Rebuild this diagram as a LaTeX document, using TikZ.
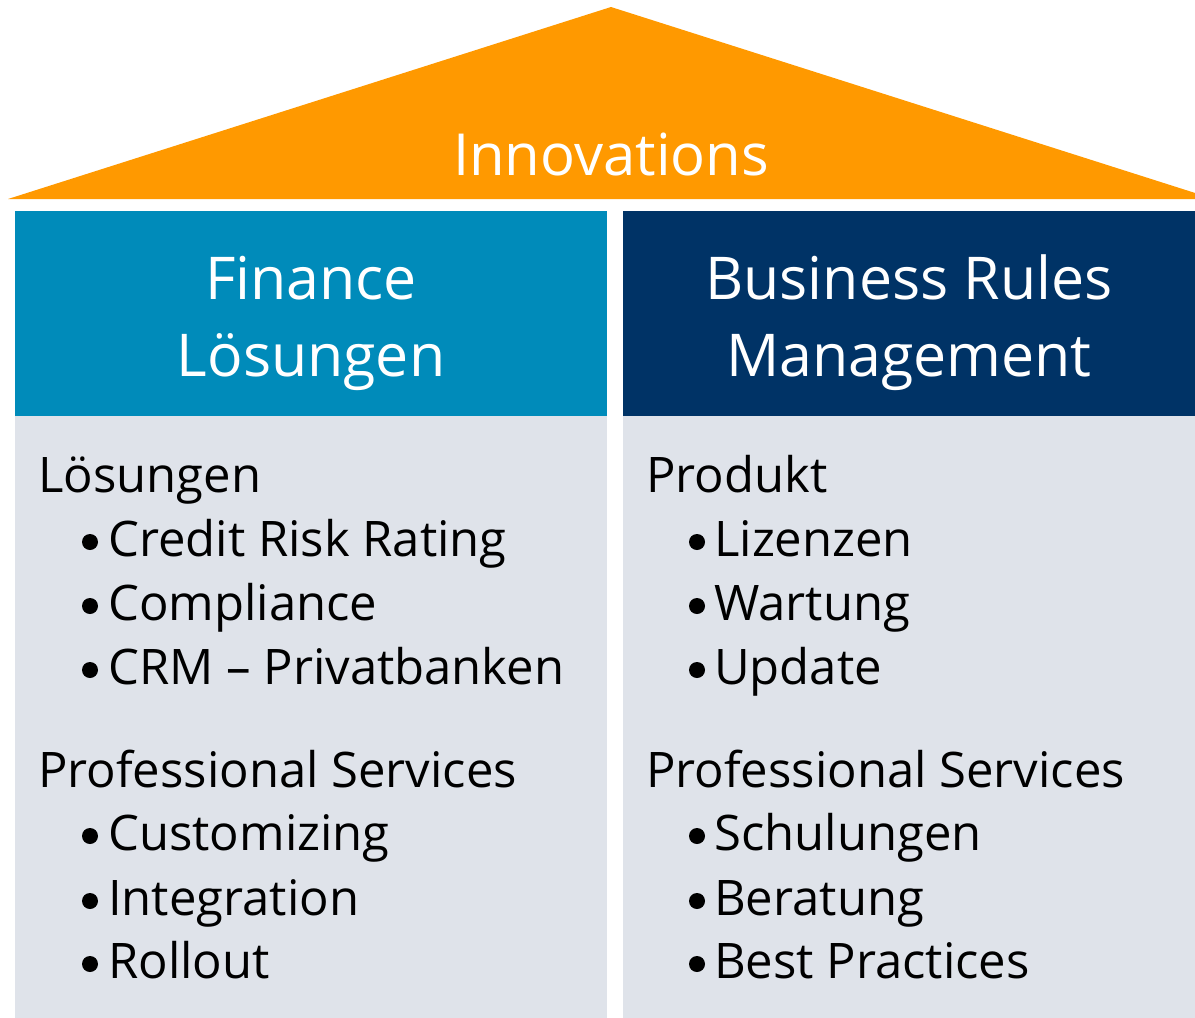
\documentclass[tikz,border=0pt]{standalone}
\usepackage{fontspec}
\setmainfont{Open Sans}
\usepackage{tikz}
\usetikzlibrary{positioning}

\definecolor{rooforange}{HTML}{FF9900}
\definecolor{finblue}{HTML}{008BBA}
\definecolor{brmnavy}{HTML}{003366}
\definecolor{bodygray}{HTML}{DFE3EA}

\begin{document}
\begin{tikzpicture}[x=1pt,y=-1pt,
    roof/.style={text=white,inner sep=0pt,anchor=base,font=\fontsize{58}{70}\selectfont},
    head/.style={text=white,inner sep=0pt,anchor=base,font=\fontsize{59}{77}\selectfont},
    item/.style={inner sep=0pt,anchor=base west,font=\fontsize{49}{64}\selectfont},
    dot/.style={fill=black}]
    \useasboundingbox (0,0) rectangle (1195,1018);

    % Roof
    \begin{scope}
        \clip (0,0) rectangle (1195,1018);
        \fill[rooforange] (8,199) -- (611,7) -- (1214,199) -- cycle;
    \end{scope}
    \node[roof] (innov) at (611,175) {Innovations};

    % Pillars
    \fill[finblue] (15,211) rectangle (607,416);
    \fill[bodygray] (15,416) rectangle (607,1018);
    \fill[brmnavy] (623,211) rectangle (1195,416);
    \fill[bodygray] (623,416) rectangle (1195,1018);

    % Left pillar
    \node[head] (fin1) at (311,299) {Finance};
    \node[head] (fin2) at (311,376) {Lösungen};
    \node[item] (lsol) at (38,492) {Lösungen};
    \node[item] (lcrr) at (108,556) {Credit Risk Rating};
    \node[item] (lcom) at (108,620) {Compliance};
    \node[item] (lcrm) at (108,684) {CRM – Privatbanken};
    \node[item] (lps) at (38,787) {Professional Services};
    \node[item] (lcus) at (108,850) {Customizing};
    \node[item] (lint) at (108,915) {Integration};
    \node[item] (lrol) at (108,978) {Rollout};

    % Right pillar
    \node[head] (brm1) at (909,299) {Business Rules};
    \node[head] (brm2) at (909,376) {Management};
    \node[item] (rprod) at (646,492) {Produkt};
    \node[item] (rliz) at (714,556) {Lizenzen};
    \node[item] (rwar) at (714,620) {Wartung};
    \node[item] (rupd) at (714,684) {Update};
    \node[item] (rps) at (646,787) {Professional Services};
    \node[item] (rsch) at (714,850) {Schulungen};
    \node[item] (rber) at (714,915) {Beratung};
    \node[item] (rbp) at (714,978) {Best Practices};

    % Bullets
    \fill[dot] (90,542) circle (8);
    \fill[dot] (90,606) circle (8);
    \fill[dot] (90,670) circle (8);
    \fill[dot] (90,836) circle (8);
    \fill[dot] (90,901) circle (8);
    \fill[dot] (90,964) circle (8);
    \fill[dot] (697,542) circle (8);
    \fill[dot] (697,606) circle (8);
    \fill[dot] (697,670) circle (8);
    \fill[dot] (697,836) circle (8);
    \fill[dot] (697,901) circle (8);
    \fill[dot] (697,964) circle (8);
\end{tikzpicture}
\end{document}
